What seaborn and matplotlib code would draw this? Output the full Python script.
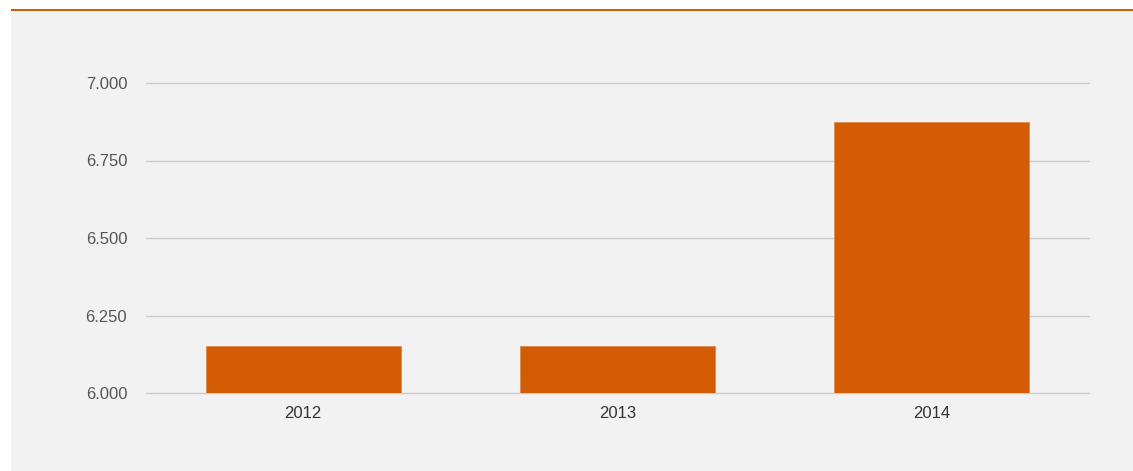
import matplotlib
matplotlib.use("Agg")
import matplotlib.pyplot as plt
import seaborn as sns
import pandas as pd
from matplotlib.patches import Rectangle
from matplotlib.ticker import FixedLocator, FuncFormatter

# Values per year
years = ["2012", "2013", "2014"]
values = [6.15, 6.15, 6.875]
y_ticks = [6.0, 6.25, 6.5, 6.75, 7.0]

BAR = "#d35b03"
PANEL = "#f2f2f2"

sns.set_theme(style="white")
plt.rcParams["font.family"] = ["Liberation Sans", "DejaVu Sans"]

W, H = 1133, 471
fig = plt.figure(figsize=(W / 100, H / 100), dpi=100)
fig.patch.set_facecolor("white")

# Gray panel with an orange rule along the top (kept behind the axes)
fig.patches.append(Rectangle((11 / W, 0), 1 - 11 / W, 1 - 10 / H,
                             transform=fig.transFigure, facecolor=PANEL,
                             edgecolor="none", zorder=-10))
fig.patches.append(Rectangle((11 / W, 1 - 11 / H), 1 - 11 / W, 2 / H,
                             transform=fig.transFigure, facecolor=BAR,
                             edgecolor="none", zorder=-9))

ax = fig.add_axes([146 / W, 1 - 393 / H, (1089 - 146) / W, (393 - 83) / H])
ax.set_facecolor(PANEL)
ax.set_zorder(1)

df = pd.DataFrame({"year": years, "value": values})
sns.barplot(data=df, x="year", y="value", color=BAR, saturation=1,
            width=0.62, ax=ax, zorder=3, edgecolor="#e08a4c", linewidth=0.6)

ax.set_ylim(6.0, 7.0)
ax.set_xlim(-0.5, 2.5)
ax.yaxis.set_major_locator(FixedLocator(y_ticks))
ax.yaxis.set_major_formatter(FuncFormatter(lambda v, _: f"{v:.3f}"))
ax.grid(axis="y", color="#cccccc", linewidth=1)
for gl in ax.get_ygridlines():
    gl.set_clip_on(False)
ax.set_axisbelow(True)
for s in ax.spines.values():
    s.set_visible(False)
ax.tick_params(axis="y", length=0, pad=13.5, labelsize=12, labelcolor="#555555")
ax.tick_params(axis="x", length=0, pad=9, labelsize=12, labelcolor="#333333")
ax.set_xlabel("")
ax.set_ylabel("")

fig.savefig("out.png", dpi=100, facecolor=fig.get_facecolor())
